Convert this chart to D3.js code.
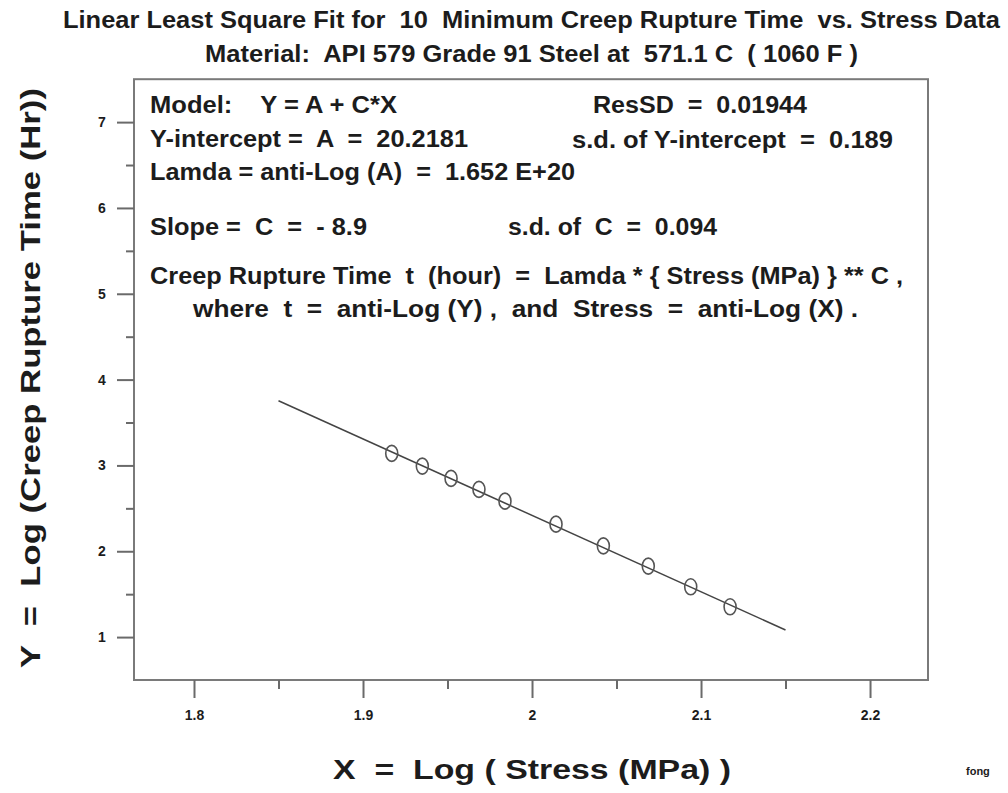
<!DOCTYPE html>
<html>
<head>
<meta charset="utf-8">
<script src="https://cdn.jsdelivr.net/npm/d3@7"></script>
<style>
  html, body { margin: 0; padding: 0; background: #fff; }
  svg { display: block; }
  text { font-family: "Liberation Sans", Arial, Helvetica, sans-serif; font-weight: bold; fill: #1c1c1c; white-space: pre; }
</style>
</head>
<body>
<svg id="chart" width="1008" height="793"></svg>
<script>
// ---- data ----
const logStress = [1.9170, 1.9351, 1.9521, 1.9686, 1.9840, 2.0142, 2.0422, 2.0688, 2.0939, 2.1172];
const logTime   = [3.140, 2.992, 2.849, 2.721, 2.584, 2.316, 2.063, 1.827, 1.586, 1.353];
const interceptA = 20.2181;
const slopeC = -8.9;
const fitRangeX = [1.85, 2.15];
const xTicks = [1.8, 1.9, 2.0, 2.1, 2.2];
const xTickLabels = ["1.8", "1.9", "2", "2.1", "2.2"];
const xMinorTicks = [1.85, 1.95, 2.05, 2.15];
const yTicks = [1, 2, 3, 4, 5, 6, 7];
const yMinorTicks = [1.5, 2.5, 3.5, 4.5, 5.5, 6.5];
const titleLines = [
  "Linear Least Square Fit for  10  Minimum Creep Rupture Time  vs. Stress Data",
  "Material:  API 579 Grade 91 Steel at  571.1 C  ( 1060 F )"
];
const xTitle = "X  =  Log ( Stress (MPa) )";
const yTitle = "Y  =  Log (Creep Rupture Time (Hr))";
const boxTexts = [
  {t: "Model:    Y = A + C*X", x: 150, y: 113, w: 247},
  {t: "ResSD  =  0.01944", x: 593, y: 113, w: 214},
  {t: "Y-intercept =  A  =  20.2181", x: 150, y: 147, w: 318},
  {t: "s.d. of Y-intercept  =  0.189", x: 572, y: 148, w: 321},
  {t: "Lamda = anti-Log (A)  =  1.652 E+20", x: 150, y: 180, w: 425},
  {t: "Slope =  C  =  - 8.9", x: 150, y: 235, w: 217},
  {t: "s.d. of  C  =  0.094", x: 508, y: 235, w: 209},
  {t: "Creep Rupture Time  t  (hour)  =  Lamda * { Stress (MPa) } ** C ,", x: 150, y: 284, w: 753},
  {t: "where  t  =  anti-Log (Y) ,  and  Stress  =  anti-Log (X) .", x: 193, y: 317, w: 665}
];

// ---- layout ----
const svg = d3.select("#chart");
const L = 134, R = 928, T = 79.2, B = 680;
const x = d3.scaleLinear().domain([1.7645, 2.2343]).range([L, R]);
const y = d3.scaleLinear().domain([0.5, 7.5]).range([B, T]);

// titles
svg.append("text").attr("x", 63).attr("y", 28).attr("font-size", 23)
  .attr("textLength", 937).attr("lengthAdjust", "spacingAndGlyphs").text(titleLines[0]);
svg.append("text").attr("x", 205).attr("y", 62).attr("font-size", 23)
  .attr("textLength", 653).attr("lengthAdjust", "spacingAndGlyphs").text(titleLines[1]);

// frame
svg.append("rect").attr("x", L).attr("y", T).attr("width", R - L).attr("height", B - T)
  .attr("fill", "none").attr("stroke", "#7a7a7a").attr("stroke-width", 2);

// axes
const xAxis = d3.axisBottom(x).tickValues(xTicks).tickSize(18).tickPadding(12)
  .tickFormat((d, i) => xTickLabels[i]);
const gx = svg.append("g").attr("transform", `translate(0,${B})`).call(xAxis);
gx.select(".domain").remove();
gx.selectAll(".tick line").attr("stroke", "#6a6a6a").attr("stroke-width", 2);
gx.selectAll(".tick text").attr("font-size", 14).attr("fill", "#1c1c1c")
  .attr("font-family", "Liberation Sans, Arial, sans-serif").attr("font-weight", "bold");

const xMinor = d3.axisBottom(x).tickValues(xMinorTicks).tickSize(9).tickFormat("");
const gxm = svg.append("g").attr("transform", `translate(0,${B})`).call(xMinor);
gxm.select(".domain").remove();
gxm.selectAll(".tick line").attr("stroke", "#6a6a6a").attr("stroke-width", 2);

const yAxis = d3.axisLeft(y).tickValues(yTicks).tickSize(17).tickPadding(11).tickFormat(d3.format("d"));
const gy = svg.append("g").attr("transform", `translate(${L},0)`).call(yAxis);
gy.select(".domain").remove();
gy.selectAll(".tick line").attr("stroke", "#6a6a6a").attr("stroke-width", 2);
gy.selectAll(".tick text").attr("font-size", 14).attr("fill", "#1c1c1c")
  .attr("text-anchor", "middle").attr("dx", "-4")
  .attr("font-family", "Liberation Sans, Arial, sans-serif").attr("font-weight", "bold");

const yMinor = d3.axisLeft(y).tickValues(yMinorTicks).tickSize(8).tickFormat("");
const gym = svg.append("g").attr("transform", `translate(${L},0)`).call(yMinor);
gym.select(".domain").remove();
gym.selectAll(".tick line").attr("stroke", "#6a6a6a").attr("stroke-width", 2);

// fit line
svg.append("line")
  .attr("x1", x(fitRangeX[0])).attr("y1", y(interceptA + slopeC * fitRangeX[0]))
  .attr("x2", x(fitRangeX[1])).attr("y2", y(interceptA + slopeC * fitRangeX[1]))
  .attr("stroke", "#444").attr("stroke-width", 1.5);

// data points
svg.append("g").selectAll("ellipse").data(logStress).join("ellipse")
  .attr("cx", d => x(d)).attr("cy", (d, i) => y(logTime[i]))
  .attr("rx", 6).attr("ry", 8)
  .attr("fill", "none").attr("stroke", "#555").attr("stroke-width", 1.6);

// box texts
svg.append("g").selectAll("text").data(boxTexts).join("text")
  .attr("x", d => d.x).attr("y", d => d.y).attr("font-size", 23)
  .attr("textLength", d => d.w).attr("lengthAdjust", "spacingAndGlyphs")
  .text(d => d.t);

// axis titles
svg.append("text").attr("x", 333).attr("y", 779).attr("font-size", 27)
  .attr("textLength", 398).attr("lengthAdjust", "spacingAndGlyphs").text(xTitle);
svg.append("text").attr("transform", "translate(40,668) rotate(-90)").attr("font-size", 27)
  .attr("textLength", 580).attr("lengthAdjust", "spacingAndGlyphs").text(yTitle);

// signature
svg.append("text").attr("x", 966).attr("y", 775).attr("font-size", 11).text("fong");
</script>
</body>
</html>
